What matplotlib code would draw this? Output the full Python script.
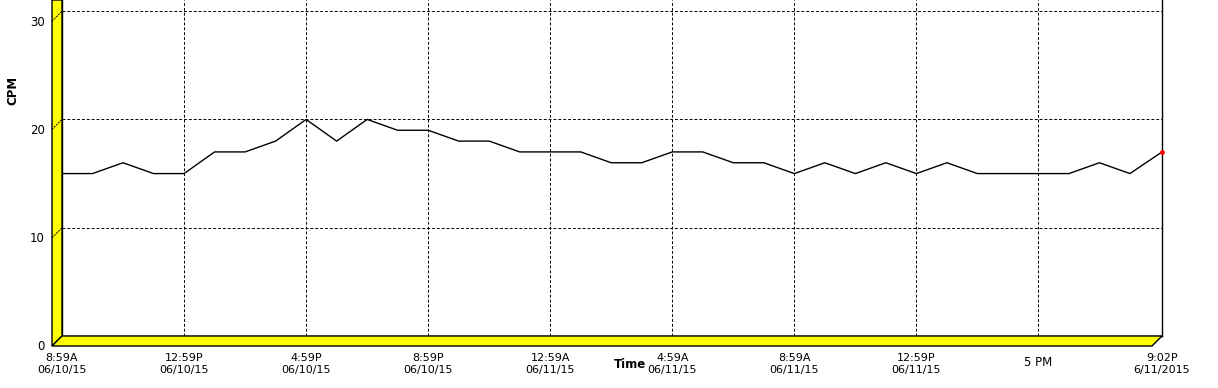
import datetime as dt
import matplotlib
matplotlib.use("Agg")
from matplotlib import pyplot as plt
from matplotlib.patches import Polygon
from matplotlib.lines import Line2D

# hourly readings, 6/10/15 8:59A through 6/11/15 9:02P
start = dt.datetime(2015, 6, 10, 8, 59)
times = [start + dt.timedelta(hours=h) for h in range(36)] + [dt.datetime(2015, 6, 11, 21, 2)]
cpm = [15, 15, 16, 15, 15, 17, 17, 18, 20, 18, 20, 19, 19, 18, 18, 17, 17, 17, 16,
       16, 17, 17, 16, 16, 15, 16, 15, 16, 15, 16, 15, 15, 15, 15, 16, 15, 17]

tick_times = [start + dt.timedelta(hours=h) for h in range(0, 32, 4)] + [times[-1]]
tick_labels = ["8:59A\n06/10/15", "12:59P\n06/10/15", "4:59P\n06/10/15", "8:59P\n06/10/15",
               "12:59A\n06/11/15", "4:59A\n06/11/15", "8:59A\n06/11/15", "12:59P\n06/11/15",
               "9:02P\n6/11/2015"]
extra_time = start + dt.timedelta(hours=32)
extra_label = "5 PM"
y_ticks = [0, 10, 20, 30]

W, H = 1218, 388
fig = plt.figure(figsize=(W / 100, H / 100), dpi=100)
plt.rcParams['font.family'] = ['DejaVu Sans']


def fp(x, y):
    return (x / W, 1 - y / H)


# back plane
ax = fig.add_axes([62 / W, 1 - 336 / H, 1100 / W, 336 / H])
ax.plot(times, cpm, color='black', lw=1.0, zorder=3)
ax.plot(times[-1:], cpm[-1:], 'o', color='red', ms=2.5, zorder=4, clip_on=False)
ax.set_xlim(start, times[-1])
ax.set_ylim(0, 31.03)

for t in tick_times[1:-1] + [extra_time]:
    ax.axvline(t, color='black', lw=0.7, ls=(0, (3, 2)), zorder=1)
for v in y_ticks[1:]:
    ax.axhline(v, color='black', lw=0.7, ls=(0, (3, 2)), zorder=1)

ax.set_xticks(tick_times)
ax.set_xticklabels(tick_labels, fontsize=8, linespacing=1.3)
ax.tick_params(axis='x', length=0, pad=12)
ax.set_yticks([])
ax.text(extra_time, -0.08, extra_label, transform=ax.get_xaxis_transform(),
        ha='center', va='center', fontsize=8.5)

ax.spines['top'].set_visible(False)
for s in ['left', 'bottom', 'right']:
    ax.spines[s].set_linewidth(1.0)

# yellow left wall and floor
wall = Polygon([fp(52, 0), fp(62, 0), fp(62, 336), fp(52, 346)], closed=True,
               facecolor='#ffff00', edgecolor='black', lw=1.0, transform=fig.transFigure)
floor = Polygon([fp(52, 346), fp(62, 336), fp(1162, 336), fp(1152, 346)], closed=True,
                facecolor='#ffff00', edgecolor='black', lw=1.0, transform=fig.transFigure)
fig.patches.extend([wall, floor])

# y tick labels on the front edge, with dashed diagonals to the back grid
ytrans = ax.get_yaxis_transform()
for v in y_ticks:
    yb = ytrans.transform((0, v))[1]
    yf = yb - 10
    if v > 0:
        fig.add_artist(Line2D([52 / W, 62 / W], [yf / H, yb / H], color='black', lw=0.7,
                              ls=(0, (2, 1)), transform=fig.transFigure))
    fig.text(45 / W, (yf - 1) / H, str(v), ha='right', va='center', fontsize=8.5)

fig.text(630 / W, 1 - 365 / H, "Time", ha='center', va='center', fontsize=8.5, fontweight='bold')
fig.text(13 / W, 1 - 90 / H, "CPM", ha='center', va='center', fontsize=8.5,
         fontweight='bold', rotation=90)

fig.savefig("out.png", dpi=100)
